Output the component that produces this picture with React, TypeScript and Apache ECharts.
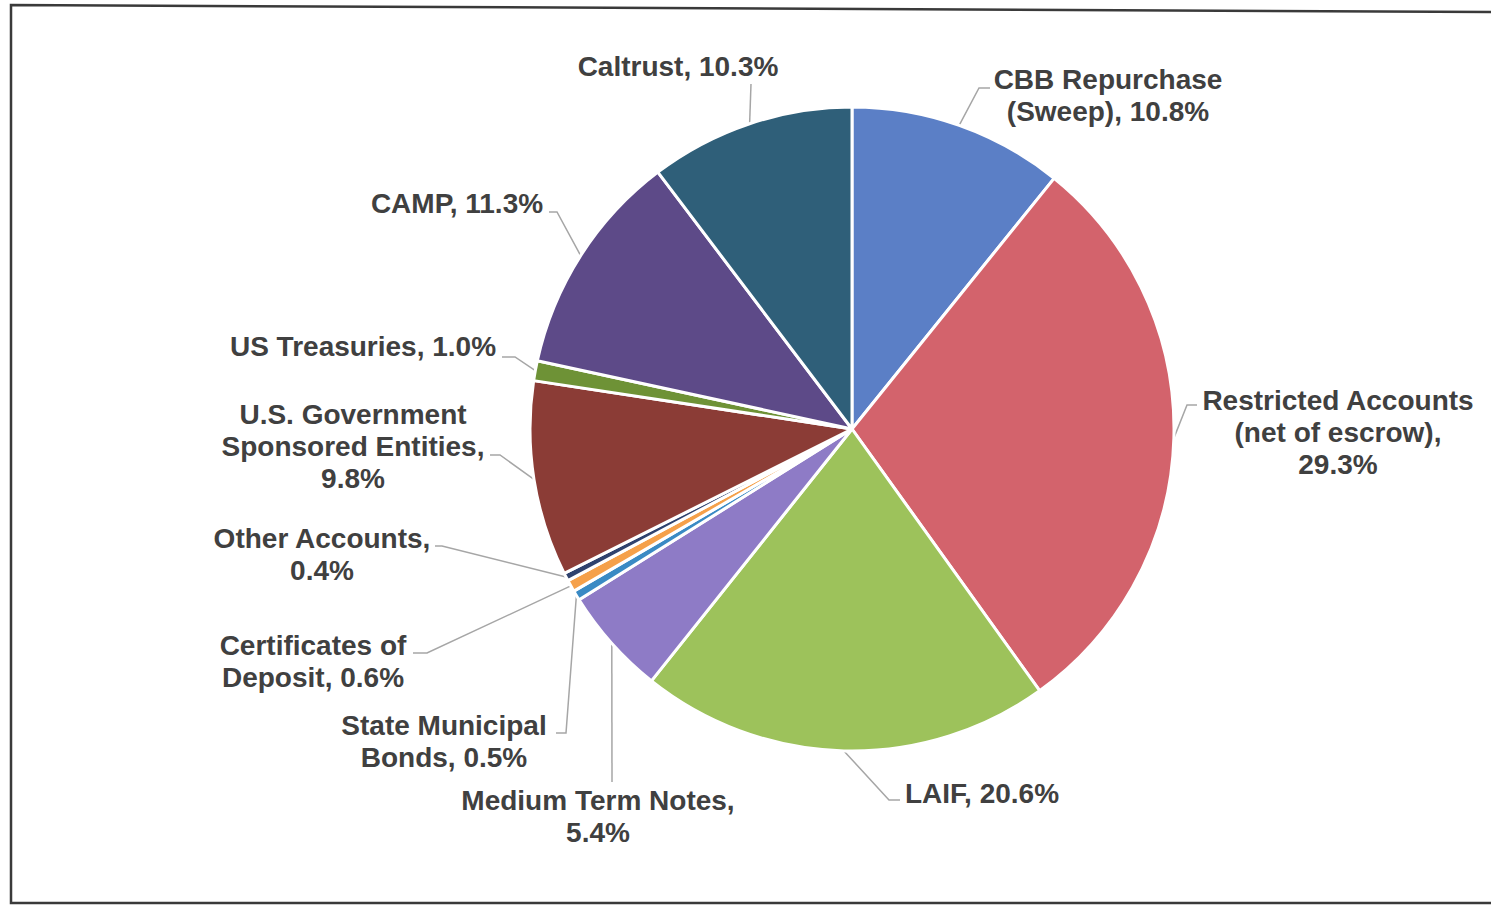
import React, { useEffect, useRef } from "react";
import * as echarts from "echarts";

// ---- Data ----
const categories = [
  "CBB Repurchase\n(Sweep)",
  "Restricted Accounts\n(net of escrow)",
  "LAIF",
  "Medium Term Notes",
  "State Municipal\nBonds",
  "Certificates of\nDeposit",
  "Other Accounts",
  "U.S. Government\nSponsored Entities",
  "US Treasuries",
  "CAMP",
  "Caltrust",
];
const values = [10.8, 29.3, 20.6, 5.4, 0.5, 0.6, 0.4, 9.8, 1.0, 11.3, 10.3];
const separators = [", ", ",\n", ", ", ",\n", ", ", ", ", ",\n", ",\n", ", ", ", ", ", "];

// ---- Styles ----
const colors = [
  "#5B7FC6",
  "#D3636C",
  "#9DC25B",
  "#8E7BC6",
  "#3A8AC4",
  "#F5A04A",
  "#2F426E",
  "#8B3C36",
  "#6E9236",
  "#5D4A88",
  "#2F5F79",
];

// label centre positions and leader-line elbow/end points (layout only)
const labelLayouts: { x: number; y: number; line: number[][] }[] = [
  { x: 1108, y: 95, line: [[979, 88], [990, 88]] },
  { x: 1338, y: 432, line: [[1187, 405], [1197, 405]] },
  { x: 982, y: 793, line: [[889, 800], [900, 800]] },
  { x: 598, y: 816, line: [[612, 782], [612, 782]] },
  { x: 444, y: 741, line: [[566, 733], [556, 733]] },
  { x: 313, y: 661, line: [[427, 653], [413, 653]] },
  { x: 322, y: 554, line: [[442, 546], [435, 546]] },
  { x: 353, y: 446, line: [[500, 455], [490, 455]] },
  { x: 363, y: 346, line: [[515, 357], [502, 357]] },
  { x: 457, y: 203, line: [[557, 212], [549, 212]] },
  { x: 678, y: 66, line: [[751, 84], [751, 84]] },
];

const CX = 852;
const CY = 429;
const R = 322;

export default function App() {
  const ref = useRef<HTMLDivElement>(null);

  useEffect(() => {
    if (!ref.current) return;
    const chart = echarts.init(ref.current, null, { renderer: "svg" });
    const total = values.reduce((a, b) => a + b, 0);
    const data = categories.map((name, i) => ({
      name,
      value: values[i],
      itemStyle: { color: colors[i] },
    }));

    chart.setOption({
      animation: false,
      backgroundColor: "#ffffff",
      graphic: [
        {
          type: "polyline",
          shape: {
            points: [
              [1491, 12],
              [11, 5],
              [11, 903],
              [1491, 903],
            ],
          },
          style: { stroke: "#3a3a3a", lineWidth: 2.5, fill: null },
          silent: true,
        },
      ],
      series: [
        {
          type: "pie",
          center: [CX, CY],
          radius: [0, R],
          startAngle: 90,
          clockwise: true,
          avoidLabelOverlap: false,
          data,
          itemStyle: { borderColor: "#ffffff", borderWidth: 3 },
          label: {
            show: true,
            position: "outside",
            formatter: (p: any) =>
              `${p.name}${separators[p.dataIndex]}${values[p.dataIndex].toFixed(1)}%`,
            color: "#404040",
            fontFamily: "'Liberation Sans', Arial, sans-serif",
            fontWeight: "bold",
            fontSize: 28,
            lineHeight: 32,
            align: "center",
            width: 460,
            overflow: "none",
          },
          labelLine: {
            show: true,
            length: 20,
            length2: 10,
            lineStyle: { color: "#A6A6A6", width: 1.5 },
          },
          labelLayout: (params: any) => {
            const i = params.dataIndex;
            const L = labelLayouts[i];
            let start: number[];
            if (params.labelLinePoints && params.labelLinePoints[0]) {
              start = params.labelLinePoints[0];
            } else {
              let cum = 0;
              for (let k = 0; k < i; k++) cum += values[k];
              const mid = ((cum + values[i] / 2) / total) * Math.PI * 2;
              start = [CX + R * Math.sin(mid), CY - R * Math.cos(mid)];
            }
            return {
              x: L.x,
              y: L.y,
              align: "center",
              verticalAlign: "middle",
              width: 460,
              labelLinePoints: [start, L.line[0], L.line[1]],
            };
          },
        },
      ],
    });

    return () => chart.dispose();
  }, []);

  return (
    <div
      ref={ref}
      style={{ position: "fixed", left: 0, top: 0, width: 1491, height: 905, background: "#fff" }}
    />
  );
}
